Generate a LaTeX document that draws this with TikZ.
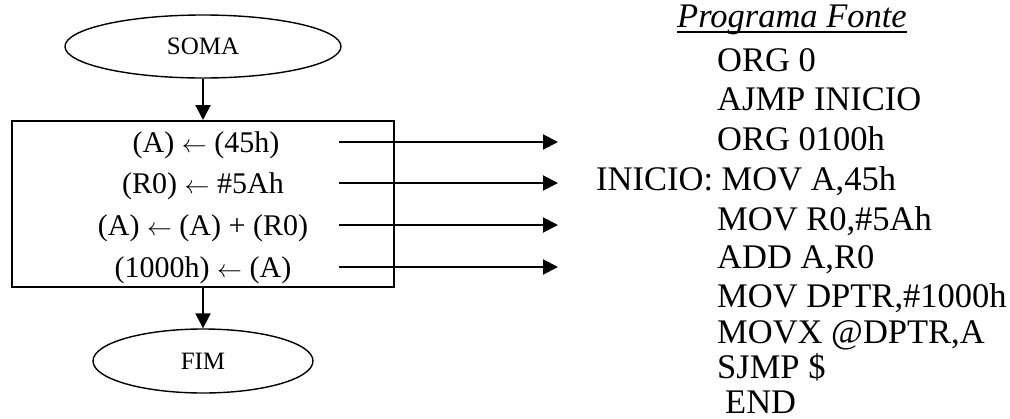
\documentclass[tikz,border=0pt]{standalone}
\usepackage{fontspec}
\setmainfont{Liberation Serif}
\usetikzlibrary{shapes.geometric,arrows.meta}
\newcommand{\lar}{$\leftarrow$}
\begin{document}
\begin{tikzpicture}[x=1pt,y=-1pt,
  term/.style={ellipse,draw,line width=1.4pt,inner sep=0pt,font=\fontsize{25}{30}\selectfont},
  procbox/.style={rectangle,draw,line width=2pt,inner sep=0pt},
  boxtxt/.style={anchor=base,inner sep=0pt,font=\fontsize{30}{36}\selectfont},
  code/.style={anchor=base west,inner sep=0pt,font=\fontsize{34.5}{40}\selectfont},
  flow/.style={line width=2pt,-{Triangle[length=15pt,width=15pt]}}]
\useasboundingbox (0,0) rectangle (1010,418);
% flowchart
\node[term,minimum width=276pt,minimum height=63pt] (soma) at (203,46.5) {SOMA};
\node[procbox,minimum width=382pt,minimum height=166pt] (box) at (203,204) {};
\node[term,minimum width=220pt,minimum height=64pt] (fim) at (203,361) {FIM};
\draw[flow] (soma.south) -- (box.north);
\draw[flow] (box.south) -- (fim.north);
\node[boxtxt] (t1) at (206,152) {(A) \lar{} (45h)};
\node[boxtxt] (t2) at (203,193) {(R0) \lar{} \#5Ah};
\node[boxtxt] (t3) at (203,235) {(A) \lar{} (A) + (R0)};
\node[boxtxt] (t4) at (203,277) {(1000h) \lar{} (A)};
% arrows to code
\coordinate (s1) at (339,142); \coordinate (e1) at (558,142);
\coordinate (s2) at (339,183); \coordinate (e2) at (558,183);
\coordinate (s3) at (339,225); \coordinate (e3) at (558,225);
\coordinate (s4) at (339,267); \coordinate (e4) at (558,267);
\draw[flow] (s1) -- (e1);
\draw[flow] (s2) -- (e2);
\draw[flow] (s3) -- (e3);
\draw[flow] (s4) -- (e4);
% source program
\node[anchor=base,inner sep=0pt,font=\fontsize{34.5}{40}\selectfont\itshape] (title) at (792,27) {Programa Fonte};
\draw[line width=1.8pt] ([yshift=-5pt]title.base west) -- ([yshift=-5pt]title.base east);
\node[code] (c1) at (717,71) {ORG 0};
\node[code] (c2) at (717,110) {AJMP INICIO};
\node[code] (c3) at (717,150) {ORG 0100h};
\node[code] (c4) at (596,190) {INICIO: MOV A,45h};
\node[code] (c5) at (717,230) {MOV R0,\#5Ah};
\node[code] (c6) at (717,268) {ADD A,R0};
\node[code] (c7) at (717,307) {MOV DPTR,\#1000h};
\node[code] (c8) at (717,343) {MOVX @DPTR,A};
\node[code] (c9) at (717,378) {SJMP \$};
\node[code] (c10) at (725,413) {END};
\end{tikzpicture}
\end{document}
